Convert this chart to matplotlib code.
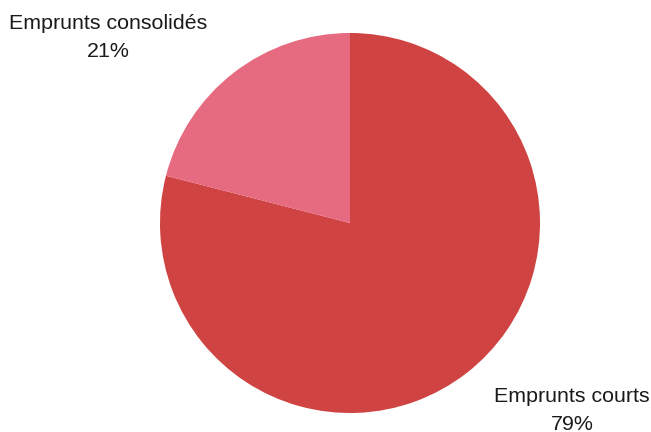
#%% IMPORTS
import matplotlib
matplotlib.use('Agg')
import matplotlib.pyplot as plt

#%% DATA
categories = ['Emprunts courts', 'Emprunts consolidés']
shares = [79, 21]
colors = ['#CF4342', '#E66A80']

#%% PLOT
plt.rcParams['font.family'] = ['Liberation Sans', 'DejaVu Sans']

W, H = 651, 432
fig = plt.figure(figsize=(W / 100, H / 100), dpi=100)
ax = fig.add_axes([0, 0, 1, 1])

# pie centre / radius in pixel units
cx, cy, r = 350, H - 223, 190
ax.pie(shares, colors=colors, startangle=90, counterclock=False,
       center=(cx, cy), radius=r, frame=True,
       wedgeprops={'linewidth': 0})
ax.set_xlim(0, W)
ax.set_ylim(0, H)
ax.set_aspect('equal')
ax.axis('off')

# label positions (pixel, top-origin)
label_pos = {'Emprunts courts': (572, 410.5), 'Emprunts consolidés': (108, 37.5)}
total = sum(shares)
for name, val in zip(categories, shares):
    x, y = label_pos[name]
    ax.text(x, H - y, f'{name}\n{round(100 * val / total)}%',
            ha='center', va='center', fontsize=15.4, color='#1a1a1a',
            linespacing=1.58)

fig.savefig('out.png', dpi=100)
